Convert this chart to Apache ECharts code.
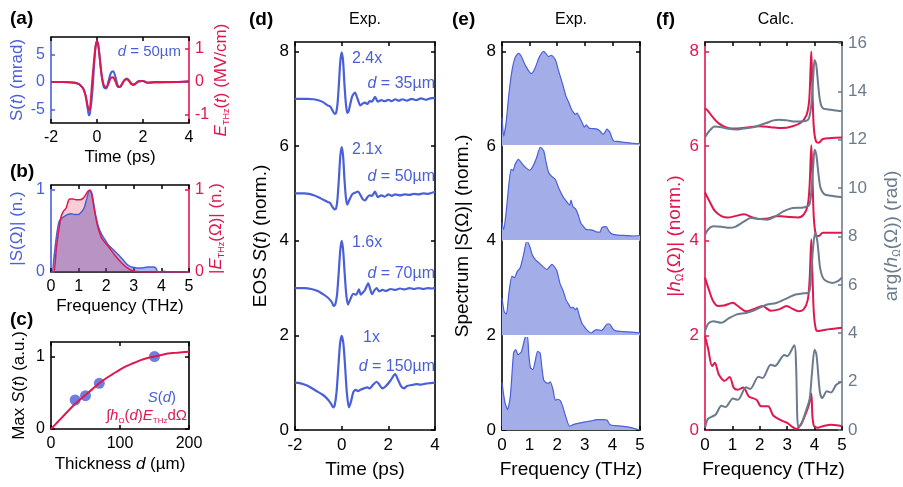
<!DOCTYPE html>
<html><head><meta charset="utf-8">
<script src="https://cdn.jsdelivr.net/npm/echarts@6/dist/echarts.min.js"></script>
<style>html,body{margin:0;padding:0;background:#fff}#c{width:903px;height:487px}</style>
</head><body><div id="c"></div>
<script>
// ---------- DATA ----------
// (a) time trace, d = 50 µm
const aTime = [-2,-1.5,-1.0,-0.8,-0.7,-0.6,-0.5,-0.4,-0.35,-0.3,-0.2,-0.1,-0.05,0,0.05,0.1,0.2,0.3,0.4,0.5,0.6,0.7,0.8,0.9,1.0,1.1,1.2,1.3,1.4,1.5,1.6,1.7,1.8,2.0,2.2,2.5,3.0,3.5,4.0];
const aSignal = [0,0,-0.1,-0.35,-0.7,-1.2,-2.4,-5.0,-6.1,-5.6,-1.8,4.6,6.8,7.4,6.9,5.2,1.2,-1.0,-1.2,0.2,1.6,1.95,1.0,-0.6,-0.9,-0.3,0.4,0.65,0.3,-0.3,-0.4,-0.2,0.1,0.2,-0.15,-0.1,-0.05,0,0.1];
const aField = [0,0,-0.02,-0.06,-0.12,-0.2,-0.4,-0.75,-0.85,-0.78,0.1,0.85,1.13,1.23,1.13,0.85,0.22,-0.1,-0.16,-0.05,0.12,0.14,0.02,-0.14,-0.15,-0.05,0.06,0.08,0.02,-0.07,-0.09,-0.04,0.02,0.03,-0.02,0,0,0,0.02];
// (b) spectra
const bSpecS = [[0,0],[0.05,0],[0.1,0.15],[0.18,0.39],[0.25,0.55],[0.3,0.62],[0.4,0.66],[0.5,0.68],[0.6,0.7],[0.74,0.71],[0.85,0.7],[0.99,0.7],[1.1,0.73],[1.2,0.78],[1.3,0.9],[1.39,0.99],[1.48,0.96],[1.6,0.72],[1.72,0.55],[1.85,0.45],[1.96,0.39],[2.1,0.32],[2.2,0.29],[2.35,0.24],[2.5,0.19],[2.68,0.12],[2.8,0.08],[2.92,0.06],[3.1,0.05],[3.3,0.05],[3.5,0.06],[3.7,0.06],[3.8,0.05],[3.87,0],[4.2,0],[5,0]];
const bSpecE = [[0,0],[0.1,0],[0.2,0.31],[0.3,0.55],[0.37,0.68],[0.45,0.74],[0.55,0.78],[0.62,0.86],[0.67,0.89],[0.8,0.89],[0.9,0.88],[1.04,0.88],[1.17,0.9],[1.33,0.98],[1.42,1.0],[1.5,0.9],[1.54,0.82],[1.66,0.6],[1.75,0.49],[1.84,0.41],[2.08,0.31],[2.32,0.2],[2.56,0.11],[2.8,0.04],[3.0,0.01],[3.5,0],[4.0,0],[4.1,0.01],[4.2,0],[5,0]];
// (c) thickness dependence
const cThick = [35,50,70,150];
const cMaxS = [0.40,0.46,0.63,1.0];
const cModelD = [0,10,20,30,40,50,60,70,80,90,100,110,120,130,140,150,160,170,180,190,200];
const cModelV = [0,0.1,0.2,0.3,0.39,0.47,0.55,0.63,0.7,0.76,0.82,0.87,0.91,0.95,0.98,1.0,1.02,1.04,1.05,1.06,1.065];
// (d) EOS traces (offset)
const d35 = [[-2,7.0],[-1.5,7.0],[-1.2,6.99],[-1.0,6.97],[-0.8,6.93],[-0.6,6.86],[-0.5,6.84],[-0.4,6.76],[-0.3,6.68],[-0.24,6.7],[-0.18,6.88],[-0.12,7.3],[-0.06,7.78],[0,7.98],[0.06,7.8],[0.12,7.3],[0.18,6.9],[0.24,6.7],[0.3,6.74],[0.45,7.05],[0.57,7.13],[0.68,7.0],[0.8,6.86],[0.9,6.9],[1.0,6.92],[1.1,6.89],[1.2,6.95],[1.3,6.94],[1.43,7.04],[1.55,6.94],[1.7,6.97],[1.85,6.95],[2.0,6.98],[2.15,6.95],[2.3,6.99],[2.45,6.96],[2.6,6.99],[2.8,6.96],[3.0,7.0],[3.2,6.97],[3.4,7.01],[3.6,6.98],[3.8,7.01],[4.0,7.02]];
const d50 = [[-2,5.0],[-1.6,5.0],[-1.4,4.99],[-1.2,4.96],[-1.0,4.92],[-0.8,4.87],[-0.6,4.82],[-0.5,4.8],[-0.4,4.72],[-0.3,4.66],[-0.24,4.68],[-0.18,4.88],[-0.12,5.3],[-0.06,5.78],[0,5.98],[0.06,5.8],[0.12,5.3],[0.18,4.92],[0.24,4.76],[0.32,4.85],[0.45,4.98],[0.6,5.02],[0.7,5.04],[0.8,4.97],[0.9,4.88],[1.0,4.85],[1.1,4.92],[1.2,4.96],[1.3,4.95],[1.43,5.04],[1.55,4.92],[1.7,4.96],[1.85,4.93],[2.0,4.98],[2.15,4.95],[2.3,4.98],[2.5,4.96],[2.7,4.98],[2.9,4.97],[3.1,4.99],[3.3,4.98],[3.5,5.0],[3.7,4.99],[3.9,5.02],[4.0,5.03]];
const d70 = [[-2,3.0],[-1.6,3.0],[-1.3,2.98],[-1.0,2.93],[-0.8,2.87],[-0.6,2.8],[-0.5,2.75],[-0.42,2.7],[-0.34,2.62],[-0.27,2.66],[-0.2,2.85],[-0.13,3.3],[-0.06,3.8],[0,4.0],[0.06,3.82],[0.13,3.3],[0.2,2.85],[0.27,2.65],[0.36,2.75],[0.5,2.88],[0.62,2.86],[0.74,2.97],[0.82,2.86],[0.9,2.9],[1.0,2.96],[1.14,3.1],[1.22,2.98],[1.3,2.87],[1.4,2.95],[1.5,3.0],[1.6,2.93],[1.75,2.96],[1.9,2.94],[2.1,2.98],[2.3,2.96],[2.5,2.99],[2.7,2.97],[2.9,3.0],[3.1,2.98],[3.3,3.0],[3.5,2.98],[3.7,3.0],[3.9,2.99],[4.0,3.01]];
const d150 = [[-2,1.0],[-1.8,0.99],[-1.6,0.96],[-1.4,0.92],[-1.2,0.86],[-1.0,0.8],[-0.83,0.75],[-0.7,0.7],[-0.55,0.62],[-0.45,0.55],[-0.36,0.48],[-0.3,0.52],[-0.22,0.8],[-0.14,1.35],[-0.07,1.82],[0,1.99],[0.07,1.84],[0.14,1.4],[0.22,0.8],[0.31,0.48],[0.4,0.6],[0.5,0.8],[0.6,0.85],[0.7,0.82],[0.8,0.85],[0.95,0.88],[1.1,0.9],[1.2,0.88],[1.35,0.96],[1.49,1.02],[1.6,0.97],[1.74,0.88],[1.9,0.93],[2.1,1.05],[2.29,1.18],[2.4,1.08],[2.55,0.92],[2.67,0.88],[2.8,0.93],[3.0,0.95],[3.2,0.97],[3.4,0.96],[3.6,0.98],[3.8,0.99],[4.0,1.0]];
const dFactors = ['2.4x','2.1x','1.6x','1x'];
const dThick = ['35µm','50µm','70µm','150µm'];
// (e) measured spectra (offset)
const e35 = [[0,6.6],[0.06,6.21],[0.15,6.5],[0.25,7.1],[0.36,7.59],[0.48,7.88],[0.6,7.96],[0.7,7.9],[0.85,7.7],[1.06,7.53],[1.2,7.65],[1.35,7.88],[1.51,8.0],[1.6,7.95],[1.69,7.89],[1.78,7.92],[1.87,7.88],[1.95,7.8],[2.05,7.59],[2.15,7.4],[2.23,7.24],[2.32,7.05],[2.42,6.92],[2.5,6.8],[2.58,6.72],[2.66,6.67],[2.72,6.7],[2.8,6.62],[2.9,6.5],[2.98,6.4],[3.05,6.45],[3.15,6.38],[3.3,6.37],[3.44,6.36],[3.55,6.32],[3.66,6.25],[3.74,6.3],[3.8,6.36],[3.9,6.3],[4.04,6.11],[4.2,6.1],[4.4,6.08],[4.6,6.07],[4.75,6.06],[4.89,6.05],[5,6.06]];
const e50 = [[0,4.38],[0.06,4.24],[0.15,4.6],[0.25,5.2],[0.33,5.51],[0.4,5.48],[0.48,5.62],[0.6,5.72],[0.7,5.65],[0.85,5.55],[1.0,5.49],[1.1,5.55],[1.25,5.75],[1.39,5.98],[1.51,5.9],[1.6,5.65],[1.69,5.44],[1.8,5.36],[1.93,5.3],[2.05,5.12],[2.23,4.91],[2.35,4.82],[2.45,4.75],[2.5,4.86],[2.57,4.72],[2.66,4.68],[2.76,4.55],[2.85,4.38],[2.95,4.3],[3.04,4.24],[3.2,4.23],[3.3,4.22],[3.45,4.18],[3.55,4.18],[3.62,4.28],[3.77,4.3],[3.88,4.2],[4.0,4.14],[4.2,4.12],[4.5,4.11],[4.8,4.1],[5,4.11]];
const e70 = [[0,2.79],[0.08,2.5],[0.16,2.45],[0.25,2.9],[0.36,3.25],[0.45,3.22],[0.55,3.35],[0.66,3.43],[0.78,3.7],[0.9,4.0],[1.0,3.89],[1.1,3.7],[1.21,3.6],[1.4,3.5],[1.63,3.39],[1.72,3.45],[1.81,3.5],[1.9,3.45],[1.99,3.36],[2.1,3.1],[2.23,2.92],[2.32,2.75],[2.42,2.65],[2.5,2.58],[2.57,2.6],[2.66,2.54],[2.72,2.58],[2.8,2.42],[2.9,2.25],[3.0,2.17],[3.1,2.1],[3.24,2.05],[3.35,2.1],[3.44,2.12],[3.6,2.1],[3.7,2.16],[3.8,2.24],[3.9,2.24],[4.0,2.15],[4.1,2.1],[4.4,2.08],[4.7,2.07],[5,2.05]];
const e150 = [[0,1.0],[0.1,0.6],[0.2,0.43],[0.3,0.7],[0.42,1.63],[0.5,1.7],[0.58,1.59],[0.7,1.65],[0.84,1.96],[0.92,2.0],[0.97,1.6],[1.03,1.32],[1.12,1.28],[1.2,1.45],[1.29,1.66],[1.38,1.63],[1.45,1.3],[1.51,1.06],[1.6,1.0],[1.69,0.99],[1.75,1.02],[1.85,0.85],[1.93,0.63],[2.02,0.65],[2.11,0.62],[2.2,0.5],[2.3,0.3],[2.45,0.08],[2.6,0.12],[2.84,0.15],[3.1,0.18],[3.3,0.2],[3.44,0.22],[3.6,0.22],[3.8,0.21],[3.9,0.12],[4.0,0.1],[4.2,0.09],[4.5,0.07],[4.8,0.03],[5,0.0]];
const eOffsets = [0,2,4,6];
// (f) calculated response: magnitude (left axis) and phase (right axis)
const fMag1 = [[0,6.8],[0.1,6.75],[0.3,6.6],[0.5,6.48],[0.8,6.39],[1.2,6.37],[1.6,6.4],[2.0,6.42],[2.4,6.4],[2.8,6.38],[3.2,6.42],[3.5,6.5],[3.7,6.65],[3.8,6.95],[3.85,7.6],[3.88,8.0],[3.92,7.2],[3.97,6.4],[4.05,6.1],[4.15,6.07],[4.3,6.15],[4.6,6.17],[5,6.18]];
const fMag2 = [[0,5.02],[0.15,4.85],[0.36,4.63],[0.6,4.52],[0.83,4.49],[1.1,4.52],[1.43,4.56],[1.7,4.5],[2.0,4.46],[2.3,4.47],[2.6,4.52],[2.8,4.52],[3.1,4.5],[3.4,4.49],[3.6,4.55],[3.75,4.75],[3.82,5.2],[3.88,6.02],[3.92,5.4],[3.97,4.5],[4.05,4.12],[4.15,4.1],[4.3,4.17],[4.6,4.17],[5,4.17]];
const fMag3 = [[0,3.22],[0.15,2.95],[0.3,2.72],[0.48,2.62],[0.7,2.63],[1.02,2.69],[1.2,2.62],[1.5,2.51],[1.8,2.56],[2.1,2.62],[2.4,2.52],[2.7,2.55],[2.98,2.62],[3.2,2.56],[3.4,2.51],[3.6,2.55],[3.75,2.75],[3.82,3.2],[3.88,4.03],[3.92,3.3],[3.97,2.5],[4.05,2.12],[4.15,2.09],[4.4,2.12],[4.7,2.14],[5,2.16]];
const fMag4 = [[0,1.98],[0.06,1.85],[0.12,1.7],[0.26,1.35],[0.36,1.42],[0.5,1.18],[0.72,1.04],[0.9,1.12],[1.05,0.89],[1.2,0.85],[1.4,0.9],[1.6,0.71],[1.88,0.64],[2.05,0.5],[2.3,0.5],[2.5,0.3],[2.8,0.2],[3.0,0.15],[3.2,0.06],[3.33,0.02],[3.5,0.12],[3.7,0.38],[3.8,0.55],[3.88,0.77],[3.92,0.3],[3.98,0.08],[4.1,0.05],[4.3,0.08],[4.6,0.11],[4.8,0.1],[5,0.08]];
const fPh1 = [[0,12.1],[0.15,12.35],[0.36,12.55],[0.6,12.52],[0.85,12.45],[1.14,12.42],[1.4,12.46],[1.7,12.5],[2.0,12.6],[2.24,12.69],[2.5,12.8],[2.7,12.83],[3.0,12.8],[3.3,12.75],[3.6,12.76],[3.78,12.85],[3.88,13.45],[3.95,14.6],[4.0,15.3],[4.06,15.1],[4.12,14.4],[4.2,13.6],[4.3,13.3],[4.5,13.25],[5,13.18]];
const fPh2 = [[0,8.07],[0.12,8.3],[0.3,8.42],[0.6,8.4],[0.9,8.36],[1.1,8.4],[1.4,8.6],[1.67,8.76],[2.0,8.72],[2.26,8.69],[2.6,8.85],[2.86,9.04],[3.2,9.18],[3.6,9.2],[3.8,9.3],[3.88,9.86],[3.95,10.9],[4.0,11.59],[4.06,11.4],[4.15,10.5],[4.22,10.0],[4.35,9.75],[4.6,9.68],[5,9.62]];
const fPh3 = [[0,4.08],[0.12,4.4],[0.3,4.5],[0.6,4.43],[0.85,4.6],[1.14,4.77],[1.5,4.84],[1.8,4.95],[2.24,5.18],[2.6,5.25],[2.9,5.4],[3.3,5.6],[3.6,5.65],[3.8,5.7],[3.88,6.56],[3.95,7.6],[4.02,8.14],[4.1,7.8],[4.2,6.7],[4.3,6.3],[4.43,6.15],[4.65,6.08],[4.85,6.15],[5,6.31]];
const fPh4 = [[0,0.08],[0.1,0.45],[0.25,0.55],[0.4,0.65],[0.6,1.0],[0.75,0.95],[1.02,1.3],[1.2,1.25],[1.5,1.77],[1.65,1.7],[1.95,2.2],[2.1,2.15],[2.4,2.7],[2.55,2.65],[2.9,3.1],[3.0,3.05],[3.26,3.5],[3.32,2.8],[3.4,0.15],[3.5,0.2],[3.7,0.84],[3.82,1.3],[3.9,2.3],[4.0,3.32],[4.07,3.1],[4.19,1.6],[4.28,1.32],[4.45,1.6],[4.6,1.55],[4.78,1.86],[4.9,1.95],[5,2.0]];
// tick values
const aTicksL = [-5,0,5], aTicksR = [-1,0,1];
const bTicks = [0,1], cTicks = [0,1];
const dTicks = [0,2,4,6,8], fTicksR = [0,2,4,6,8,10,12,14,16];

// ---------- STYLE ----------
const FONT = '"Liberation Sans", Arial, Helvetica, sans-serif';
const BLUE = '#4a5fd8', RED = '#e0174f', GRAY = '#6b7b8c', BLK = '#000';
const grids = [
  {left:51, top:37, width:138, height:86},
  {left:51, top:185, width:138, height:87},
  {left:51, top:342, width:138, height:87},
  {left:295, top:42, width:140, height:388},
  {left:502, top:42, width:138, height:388},
  {left:705, top:42, width:140, height:388}
];
function rich(color, fs) {
  return {
    n:{color, fontSize:fs, fontFamily:FONT, lineHeight:fs+2},
    i:{color, fontSize:fs, fontFamily:FONT, fontStyle:'italic', lineHeight:fs+2},
    s:{color, fontSize:Math.round(fs*0.55), fontFamily:FONT, verticalAlign:'bottom', lineHeight:fs+2}
  };
}
const xAxis = [], yAxis = [];
function addX(gi, min, max, interval, name, gap, fs, nfs) {
  const base = {gridIndex:gi, type:'value', min, max, interval, splitLine:{show:false},
    axisLine:{show:true, onZero:false, lineStyle:{color:BLK, width:1.6}},
    axisTick:{show:true, inside:true, length:4, lineStyle:{color:BLK, width:1.5}}};
  xAxis.push(Object.assign({}, base, {position:'bottom', name, nameLocation:'middle', nameGap:gap,
    nameTextStyle:{color:BLK, fontSize:nfs, fontFamily:FONT, rich:rich(BLK,nfs)},
    axisLabel:{show:true, margin:7, color:BLK, fontSize:fs, fontFamily:FONT}}));
  xAxis.push(Object.assign({}, base, {position:'top', axisLabel:{show:false}}));
}
function addY(gi, pos, min, max, ticks, color, name, gap, fs, nfs, showLabel) {
  yAxis.push({gridIndex:gi, type:'value', position:pos, min, max, splitLine:{show:false},
    axisLine:{show:true, onZero:false, lineStyle:{color, width:1.6}},
    axisTick:{show:true, inside:true, length:4, customValues:ticks, lineStyle:{color, width:1.5}},
    axisLabel:{show:showLabel, customValues:ticks, margin:6, color, fontSize:fs, fontFamily:FONT},
    name: name || '', nameLocation:'middle', nameRotate:90, nameGap:gap,
    nameTextStyle:{color, fontSize:nfs, fontFamily:FONT, rich:rich(color,nfs)}});
}
// (a)
addX(0,-2,4,2,'Time (ps)',26,16,17);
addY(0,'left',-7.5,8.23,aTicksL,BLUE,'{n|S(}{i|t}{n|) (mrad)}',24,16,17,true);
addY(0,'right',-1.24,1.36,aTicksR,RED,'{i|E}{s|THz}{n|(}{i|t}{n|) (MV/cm)}',17,16,17,true);
// (b)
addX(1,0,5,1,'Frequency (THz)',26,16,17);
addY(1,'left',0,1.06,bTicks,BLUE,'{n||S(Ω)| (n.)}',24,16,17,true);
addY(1,'right',0,1.06,bTicks,RED,'{n||}{i|E}{s|THz}{n|(Ω)| (n.)}',17,16,17,true);
// (c)
addX(2,0,200,100,'{n|Thickness }{i|d}{n| (µm)}',26,16,17);
addY(2,'left',0,1.2,cTicks,BLK,'{n|Max }{i|S}{n|(}{i|t}{n|) (a.u.)}',22,16,17,true);
addY(2,'right',0,1.2,cTicks,BLK,'',10,16,17,false);
// (d)
addX(3,-2,4,2,'Time (ps)',30,17,19);
addY(3,'left',0,8.2,dTicks,BLK,'{n|EOS }{i|S}{n|(}{i|t}{n|) (norm.)}',24,17,19,true);
addY(3,'right',0,8.2,dTicks,BLK,'',10,17,19,false);
// (e)
addX(4,0,5,1,'Frequency (THz)',30,17,19);
addY(4,'left',0,8.2,dTicks,BLK,'{n|Spectrum |S(Ω)| (norm.)}',29,17,19,true);
addY(4,'right',0,8.2,dTicks,BLK,'',10,17,19,false);
// (f)
addX(5,0,5,1,'Frequency (THz)',30,17,19);
addY(5,'left',0,8.2,dTicks,RED,'{n||}{i|h}{s|Ω}{n|(Ω)| (norm.)}',17,17,19,true);
addY(5,'right',0,16.04,fTicksR,GRAY,'{n|arg(}{i|h}{s|Ω}{n|(Ω)) (rad)}',39,17,19,true);

const zip = (xs, ys) => xs.map((x,i)=>[x, ys[i]]);
function line(gi, right, data, color, extra) {
  return Object.assign({type:'line', xAxisIndex:gi*2, yAxisIndex:gi*2+(right?1:0), data,
    showSymbol:false, smooth:0.3, lineStyle:{color, width:2}, itemStyle:{color}, silent:true}, extra||{});
}
const series = [];
// (a)
series.push(line(0,false,zip(aTime,aSignal),BLUE));
series.push(line(0,true,zip(aTime,aField),RED));
// (b)
series.push(line(1,false,bSpecS,BLUE,{smooth:0.25, lineStyle:{color:BLUE,width:1.5}, areaStyle:{color:'rgba(60,80,200,0.6)'}}));
series.push(line(1,true,bSpecE,RED,{smooth:0.25, lineStyle:{color:RED,width:1.5}, areaStyle:{color:'rgba(225,20,60,0.3)'}}));
// (c)
series.push(line(2,false,zip(cModelD,cModelV),RED,{smooth:0.3}));
series.push({type:'scatter', xAxisIndex:4, yAxisIndex:4, data:zip(cThick,cMaxS), symbolSize:11, itemStyle:{color:BLUE}, silent:true});
// (d)
[d35,d50,d70,d150].forEach(d=>series.push(line(3,false,d,BLUE,{smooth:0.25, lineStyle:{color:BLUE,width:2.2}})));
// (e)
[e150,e70,e50,e35].forEach((d,k)=>{
  series.push(line(4,false,d,BLUE,{smooth:0.2, lineStyle:{color:BLUE,width:1.2},
    areaStyle:{color:'#a3ade8', opacity:1, origin:eOffsets[k]}}));
});
series[series.length-1].markLine = {silent:true, symbol:'none', label:{show:false}, animation:false,
  lineStyle:{color:'#fff', width:2, type:'solid'},
  data:[2,4,6].map(v=>[{coord:[0.03,v]},{coord:[4.97,v]}])};
// (f)
[fMag1,fMag2,fMag3,fMag4].forEach(d=>series.push(line(5,false,d,RED,{smooth:0.3})));
[fPh1,fPh2,fPh3,fPh4].forEach(d=>series.push(line(5,true,d,GRAY,{smooth:0.3})));

// ---------- TEXT ----------
function txt(x, y, text, opts) {
  const o = opts || {};
  const fs = o.fs || 15, color = o.color || BLK;
  return {type:'text', x, y, silent:true, z:100, style:{text, fill:color, fontSize:fs, fontFamily:FONT,
    fontWeight:o.bold?'bold':'normal', align:o.align||'left', textAlign:o.align||'left',
    verticalAlign:'middle', textVerticalAlign:'middle', rich:rich(color,fs)}};
}
const graphic = [
  txt(10,19,'(a)',{fs:19,bold:true}), txt(10,172,'(b)',{fs:19,bold:true}), txt(10,320,'(c)',{fs:19,bold:true}),
  txt(249,20,'(d)',{fs:19,bold:true}), txt(452,20,'(e)',{fs:19,bold:true}), txt(656,20,'(f)',{fs:19,bold:true}),
  txt(365,20,'Exp.',{fs:16,align:'center'}), txt(571,20,'Exp.',{fs:16,align:'center'}), txt(776,20,'Calc.',{fs:16,align:'center'}),
  txt(181,52,'{i|d}{n| = 50µm}',{fs:15,color:BLUE,align:'right'}),
  txt(176,398,'{i|S}{n|(}{i|d}{n|)}',{fs:15,color:BLUE,align:'right'}),
  txt(187,416,'{n|∫}{i|h}{s|Ω}{n|(}{i|d}{n|)}{i|E}{s|THz}{n|dΩ}',{fs:15,color:RED,align:'right'})
];
const fY = [59,150,243,338], tY = [84,177,274,367];
dFactors.forEach((f,k)=>{
  graphic.push(txt(k===3?363:352, fY[k], f, {fs:16, color:BLUE}));
  graphic.push(txt(435, tY[k], '{i|d}{n| = '+dThick[k]+'}', {fs:16, color:BLUE, align:'right'}));
});

const chart = echarts.init(document.getElementById('c'), null, {renderer:'canvas'});
chart.setOption({animation:false, backgroundColor:'#fff', textStyle:{fontFamily:FONT},
  grid:grids, xAxis, yAxis, series, graphic});
</script></body></html>
